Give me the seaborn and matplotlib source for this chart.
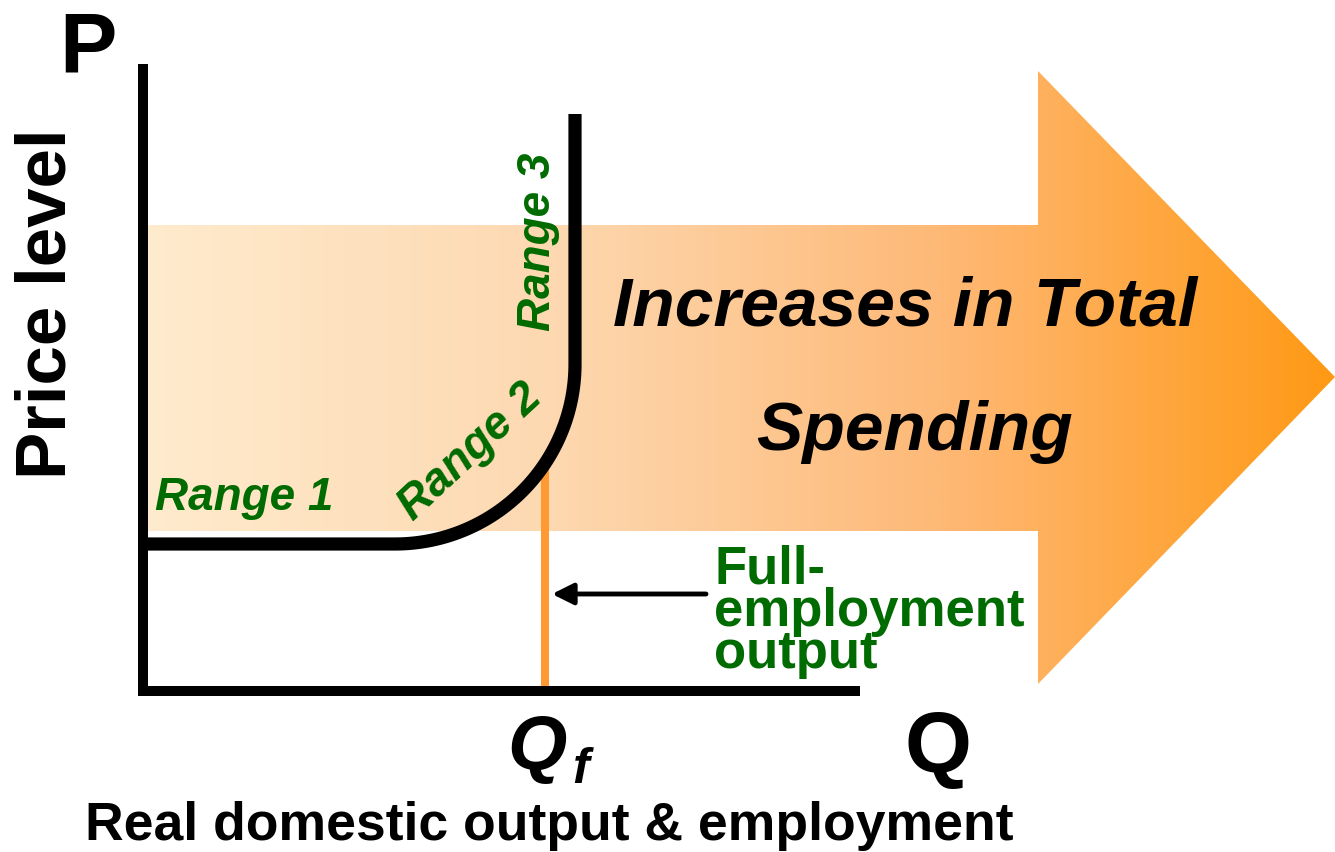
import numpy as np
import matplotlib
matplotlib.use("Agg")
import matplotlib.pyplot as plt
from matplotlib.colors import LinearSegmentedColormap
from matplotlib.patches import Polygon
import seaborn as sns
import pandas as pd

sns.set_theme(style="white")
plt.rcParams['font.family'] = ['Liberation Sans', 'DejaVu Sans']
plt.rcParams['text.color'] = 'black'

# ---- data (diagram in pixel space) ----
yaxis_x = [143, 143]
yaxis_y = [65, 697]
xaxis_x = [138, 860]
xaxis_y = [692, 692]

range1_x = [143, 395]
range1_y = [545, 545]
arc_center = (395, 365)
arc_radius = (180, 180)
range3_x = [575, 575]
range3_y = [365, 115]

qf_line_x = [545, 545]
qf_line_y = [470, 692]

arrow_x = [145, 1038, 1038, 1335, 1038, 1038, 145]
arrow_y = [226, 226, 72, 378, 685, 532, 532]
grad_colors = ["#FFEBCD", "#FDD9B2", "#FEB977", "#FF9914"]

GREEN = "#006B00"

fig = plt.figure(figsize=(13.35, 8.53), dpi=100)
ax = fig.add_axes([0, 0, 1, 1])
ax.set_xlim(0, 1335)
ax.set_ylim(853, 0)
ax.axis("off")

# gradient arrow
cmap = LinearSegmentedColormap.from_list("g", grad_colors)
grad = np.linspace(0, 1, 512).reshape(1, -1)
im = ax.imshow(grad, cmap=cmap, aspect="auto",
               extent=[min(arrow_x), max(arrow_x), max(arrow_y), min(arrow_y)],
               zorder=1)
poly = Polygon(np.column_stack([arrow_x, arrow_y]), closed=True,
               facecolor="none", edgecolor="none")
ax.add_patch(poly)
im.set_clip_path(poly)

# Qf vertical line
ax.plot(qf_line_x, qf_line_y, color="#FF9933", lw=5.8, solid_capstyle="butt", zorder=2)

# AS curve
t = np.linspace(0, np.pi / 2, 100)
arc_x = arc_center[0] + arc_radius[0] * np.sin(t)
arc_y = arc_center[1] + arc_radius[1] * np.cos(t)
curve = pd.DataFrame({
    "x": np.concatenate([range1_x, arc_x, range3_x]),
    "y": np.concatenate([range1_y, arc_y, range3_y]),
})
sns.lineplot(data=curve, x="x", y="y", sort=False, estimator=None, ax=ax,
             color="black", lw=9.5, zorder=4)
ax.lines[-1].set_solid_capstyle("butt")
ax.lines[-1].set_solid_joinstyle("round")

# axes lines
sns.lineplot(x=yaxis_x, y=yaxis_y, sort=False, estimator=None, ax=ax,
             color="black", lw=7.2, zorder=5)
ax.lines[-1].set_solid_capstyle("butt")
sns.lineplot(x=xaxis_x, y=xaxis_y, sort=False, estimator=None, ax=ax,
             color="black", lw=7.2, zorder=5)
ax.lines[-1].set_solid_capstyle("butt")
ax.set_xlim(0, 1335)
ax.set_ylim(853, 0)
ax.set_xlabel("")
ax.set_ylabel("")

# annotation arrow
ax.annotate("", xy=(552, 595), xytext=(706, 595),
            arrowprops=dict(arrowstyle="-|>", lw=3.5, color="black",
                            mutation_scale=32, shrinkA=0, shrinkB=0),
            zorder=6)

# texts
K = "black"
ax.text(88, 50, "P", fontsize=62, fontweight="bold", ha="center", va="center", color=K)
ax.text(48, 304, "Price level", fontsize=51, fontweight="bold", rotation=90,
        ha="center", va="center", color=K)
ax.text(244, 498, "Range 1", fontsize=33, fontweight="bold", style="italic",
        color=GREEN, ha="center", va="center")
ax.text(470, 452, "Range 2", fontsize=33, fontweight="bold", style="italic",
        color=GREEN, ha="center", va="center", rotation=43)
ax.text(538, 242, "Range 3", fontsize=33, fontweight="bold", style="italic",
        color=GREEN, ha="center", va="center", rotation=90)
ax.text(905, 307, "Increases in Total", fontsize=50, fontweight="bold",
        style="italic", ha="center", va="center", zorder=6, color=K)
ax.text(915, 432, "Spending", fontsize=50, fontweight="bold",
        style="italic", ha="center", va="center", zorder=6, color=K)
ax.text(714, 612, "Full-\nemployment\noutput", fontsize=38, fontweight="bold",
        color=GREEN, ha="left", va="center", linespacing=0.8, zorder=6)
ax.text(537, 750, "Q", fontsize=55, fontweight="bold", style="italic",
        ha="center", va="center", color=K)
ax.text(580, 770, "f", fontsize=36, fontweight="bold", style="italic",
        ha="center", va="center", color=K)
ax.text(938, 750, "Q", fontsize=62, fontweight="bold", ha="center", va="center", color=K)
ax.text(549, 826, "Real domestic output & employment", fontsize=38.5,
        fontweight="bold", ha="center", va="center", color=K)

fig.savefig("out.png", dpi=100)
